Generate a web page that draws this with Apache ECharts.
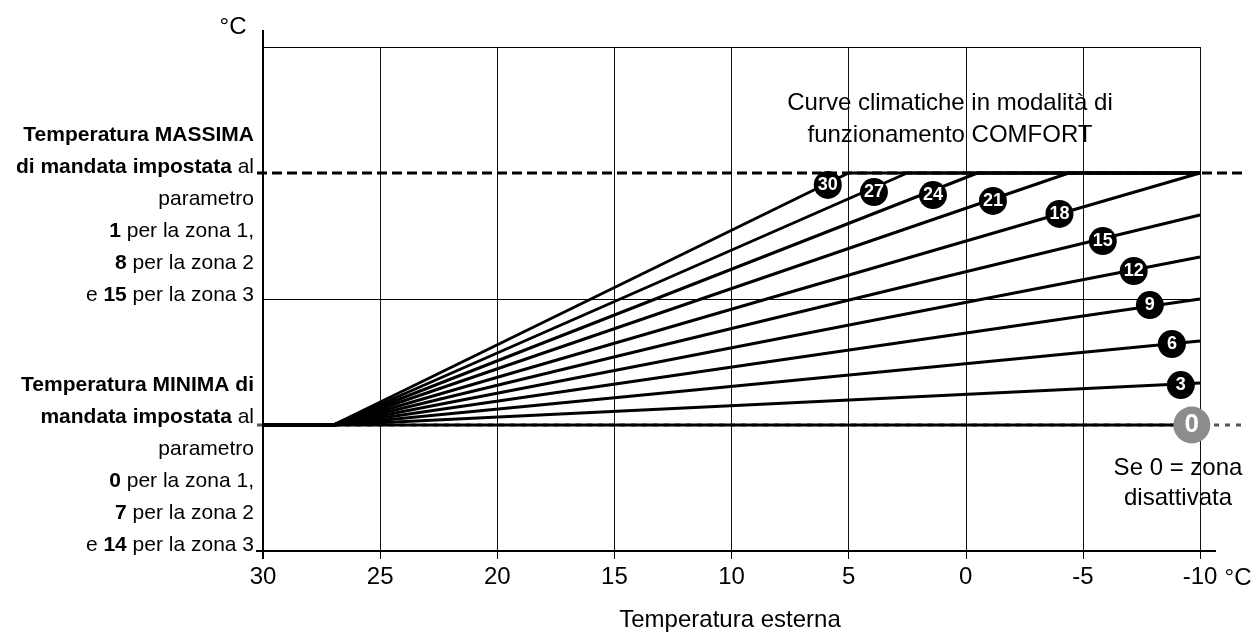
<!DOCTYPE html>
<html>
<head>
<meta charset="utf-8">
<script src="https://cdn.jsdelivr.net/npm/echarts@6/dist/echarts.min.js"></script>
<style>
html,body{margin:0;padding:0;background:#fff;}
#c{width:1256px;height:632px;}
</style>
</head>
<body>
<div id="c"></div>
<script>
// ---- data ----
const xTicks = [30, 25, 20, 15, 10, 5, 0, -5, -10];
const curveIds = [0, 3, 6, 9, 12, 15, 18, 21, 24, 27, 30];
const fanStartX = 27;          // outside temperature where curves leave the minimum
const minLevel = 1;            // minimum flow temperature (relative level)
const maxLevel = 3;            // maximum flow temperature (relative level)
const curveEndX = [-10, -10, -10, -10, -10, -10, -10, -4.4, -0.5, 2.5, 5.0];
const curveEndY = [1, 1.333, 1.667, 2.0, 2.333, 2.667, 3, 3, 3, 3, 3];
const labelX = [-9.65, -9.18, -8.8, -7.86, -7.17, -5.85, -4.0, -1.16, 1.4, 3.92, 5.89];
const labelY = [1.0, 1.317, 1.643, 1.952, 2.222, 2.46, 2.675, 2.778, 2.825, 2.849, 2.905];
const gridLevels = [2, 4];

const maxText = ['{b|Temperatura MASSIMA}', '{b|di mandata impostata} al', 'parametro',
  '{b|1} per la zona 1,', '{b|8} per la zona 2', 'e {b|15} per la zona 3'];
const minText = ['{b|Temperatura MINIMA di}', '{b|mandata impostata} al', 'parametro',
  '{b|0} per la zona 1,', '{b|7} per la zona 2', 'e {b|14} per la zona 3'];
const titleText = ['Curve climatiche in modalità di', 'funzionamento COMFORT'];
const zeroText = ['Se 0 = zona', 'disattivata'];
const unitText = '°C';
const xName = 'Temperatura esterna';

const FONT = "'Liberation Sans', Arial, Helvetica, sans-serif";

const chart = echarts.init(document.getElementById('c'));

const series = [];
curveIds.forEach((id, i) => {
  const d = [[30, minLevel], [fanStartX, minLevel], [curveEndX[i], curveEndY[i]]];
  if (curveEndX[i] > -10) d.push([-10, maxLevel]);
  series.push({
    type: 'line', data: d, symbol: 'none', z: 3, silent: true,
    lineStyle: {color: '#000', width: 3, join: 'round'}
  });
});
series.push({
  type: 'line', data: [], symbol: 'none', z: 1, silent: true,
  markLine: {
    silent: true, symbol: 'none', label: {show: false},
    lineStyle: {color: '#000', width: 1, type: 'solid'},
    data: gridLevels.map(v => ({yAxis: v}))
  }
});
series.push({
  type: 'scatter', z: 5, silent: true,
  data: curveIds.map((id, i) => ({
    value: [labelX[i], labelY[i]],
    symbolSize: id === 0 ? 37 : 28,
    itemStyle: {color: id === 0 ? '#8c8c8c' : '#000', opacity: 1},
    label: {
      show: true, position: 'inside', formatter: String(id), color: '#fff',
      fontWeight: 'bold', fontSize: id === 0 ? 26 : 18, fontFamily: FONT
    }
  }))
});

chart.setOption({
  animation: false,
  backgroundColor: '#fff',
  grid: {left: 263, top: 47, width: 937, height: 504},
  xAxis: {
    type: 'value', inverse: true, min: -10, max: 30, interval: 5,
    axisLine: {show: false},
    axisTick: {show: true, length: 8, lineStyle: {color: '#000', width: 1}},
    axisLabel: {fontSize: 24, color: '#000', margin: 14, fontFamily: FONT},
    splitLine: {show: true, lineStyle: {color: '#111', width: 1}}
  },
  yAxis: {
    type: 'value', min: 0, max: 4, interval: 1,
    axisLine: {show: false},
    axisTick: {show: true, length: 7, lineStyle: {color: '#000', width: 1}},
    axisLabel: {show: false},
    splitLine: {show: false}
  },
  series: series
});

const px = v => chart.convertToPixel({xAxisIndex: 0}, v);
const py = v => chart.convertToPixel({yAxisIndex: 0}, v);
const x30 = px(30), xm10 = px(-10), y0 = py(0), yMax = py(maxLevel), yMin = py(minLevel);

const g = [];
g.push({type: 'line', z: 10, shape: {x1: x30, y1: 30, x2: x30, y2: y0 + 8}, style: {stroke: '#000', lineWidth: 2}});
g.push({type: 'line', z: 10, shape: {x1: x30 - 7, y1: y0, x2: xm10 + 16, y2: y0}, style: {stroke: '#000', lineWidth: 2}});
g.push({type: 'line', z: 1, shape: {x1: x30 - 6, y1: yMax, x2: xm10 + 42, y2: yMax}, style: {stroke: '#000', lineWidth: 3, lineDash: [10, 5]}});
g.push({type: 'line', z: 1, shape: {x1: x30 - 6, y1: yMin, x2: xm10 + 42, y2: yMin}, style: {stroke: '#555', lineWidth: 3, lineDash: [5, 6]}});

const rich = {b: {fontWeight: 'bold', fontSize: 21, fontFamily: FONT, fill: '#000'}};
maxText.forEach((t, i) => g.push({type: 'text', z: 10, style: {text: t, x: 254, y: 135 + i * 32, align: 'right', verticalAlign: 'middle', fontSize: 21, fontFamily: FONT, fill: '#000', rich: rich}}));
minText.forEach((t, i) => g.push({type: 'text', z: 10, style: {text: t, x: 254, y: 385 + i * 32, align: 'right', verticalAlign: 'middle', fontSize: 21, fontFamily: FONT, fill: '#000', rich: rich}}));
titleText.forEach((t, i) => g.push({type: 'text', z: 10, style: {text: t, x: 950, y: 103 + i * 32, align: 'center', verticalAlign: 'middle', fontSize: 24, fontFamily: FONT, fill: '#000'}}));
zeroText.forEach((t, i) => g.push({type: 'text', z: 10, style: {text: t, x: 1178, y: 468 + i * 30, align: 'center', verticalAlign: 'middle', fontSize: 24, fontFamily: FONT, fill: '#000'}}));
g.push({type: 'text', z: 10, style: {text: unitText, x: 233, y: 27, align: 'center', verticalAlign: 'middle', fontSize: 24, fontFamily: FONT, fill: '#000'}});
g.push({type: 'text', z: 10, style: {text: unitText, x: 1238, y: 578, align: 'center', verticalAlign: 'middle', fontSize: 24, fontFamily: FONT, fill: '#000'}});
g.push({type: 'text', z: 10, style: {text: xName, x: 730, y: 620, align: 'center', verticalAlign: 'middle', fontSize: 24, fontFamily: FONT, fill: '#000'}});

chart.setOption({graphic: g});
</script>
</body>
</html>
